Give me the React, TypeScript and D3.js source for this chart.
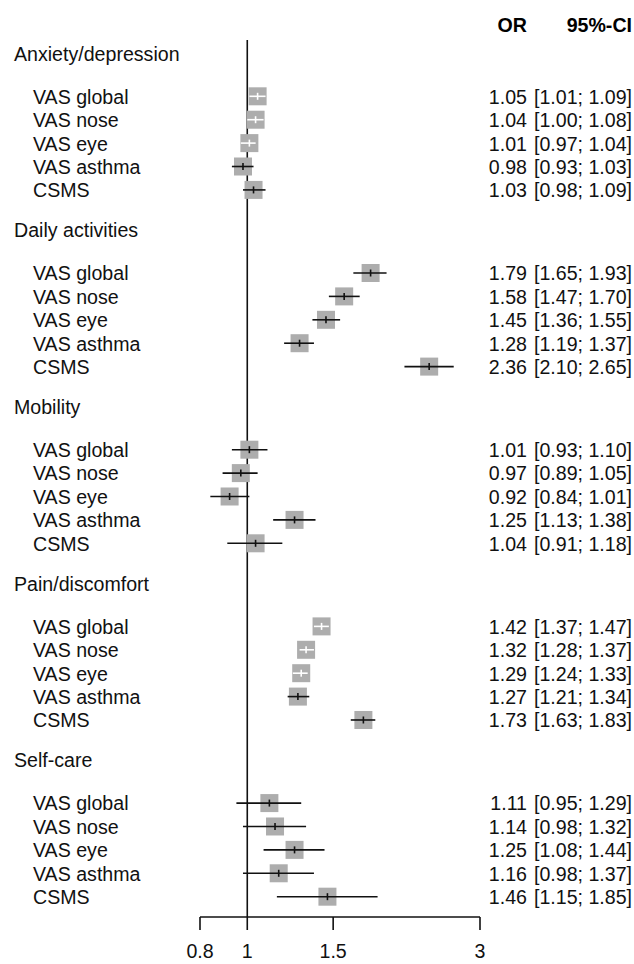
import { useEffect, useRef } from 'react';
import * as d3 from 'd3';

const groups = ['Anxiety/depression', 'Daily activities', 'Mobility', 'Pain/discomfort', 'Self-care'];
const measures = ['VAS global', 'VAS nose', 'VAS eye', 'VAS asthma', 'CSMS'];

// odds ratios, one row per group (same order as measures)
const orValues = [
  [1.05, 1.04, 1.01, 0.98, 1.03],
  [1.79, 1.58, 1.45, 1.28, 2.36],
  [1.01, 0.97, 0.92, 1.25, 1.04],
  [1.42, 1.32, 1.29, 1.27, 1.73],
  [1.11, 1.14, 1.25, 1.16, 1.46],
];
const ciLower = [
  [1.01, 1.0, 0.97, 0.93, 0.98],
  [1.65, 1.47, 1.36, 1.19, 2.1],
  [0.93, 0.89, 0.84, 1.13, 0.91],
  [1.37, 1.28, 1.24, 1.21, 1.63],
  [0.95, 0.98, 1.08, 0.98, 1.15],
];
const ciUpper = [
  [1.09, 1.08, 1.04, 1.03, 1.09],
  [1.93, 1.7, 1.55, 1.37, 2.65],
  [1.1, 1.05, 1.01, 1.38, 1.18],
  [1.47, 1.37, 1.33, 1.34, 1.83],
  [1.29, 1.32, 1.44, 1.37, 1.85],
];

const tickValues = [0.8, 1, 1.5, 3];

export default function App() {
  const ref = useRef<SVGSVGElement>(null);

  useEffect(() => {
    const width = 634;
    const height = 964;
    const font = '"Liberation Sans", Arial, Helvetica, sans-serif';
    const fs = 19.6;

    const svg = d3.select(ref.current);
    svg.selectAll('*').remove();
    svg.attr('width', width).attr('height', height).attr('viewBox', `0 0 ${width} ${height}`);

    const x = d3.scaleLog().domain([0.8, 3]).range([200, 480]);

    // row positions: header, a gap, five measures, gap before next header
    const groupSpan = 7.551;
    const headerGap = 1.838;
    const y = d3.scaleLinear().domain([0, 1]).range([53.3, 76.7]);

    const axisY = 917;
    const box = 18;

    // reference line at OR = 1
    svg
      .append('line')
      .attr('x1', x(1))
      .attr('x2', x(1))
      .attr('y1', 40)
      .attr('y2', axisY)
      .attr('stroke', '#111')
      .attr('stroke-width', 1.6);

    // column headers
    svg
      .append('text')
      .attr('x', 527)
      .attr('y', 32)
      .attr('text-anchor', 'end')
      .style('font-family', font)
      .style('font-size', `${fs}px`)
      .style('font-weight', 'bold')
      .text('OR');
    svg
      .append('text')
      .attr('x', 632)
      .attr('y', 32)
      .attr('text-anchor', 'end')
      .style('font-family', font)
      .style('font-size', `${fs}px`)
      .style('font-weight', 'bold')
      .text('95%-CI');

    groups.forEach((g, gi) => {
      const hy = y(gi * groupSpan);
      svg
        .append('text')
        .attr('x', 14)
        .attr('y', hy + 7.4)
        .style('font-family', font)
        .style('font-size', `${fs}px`)
        .attr('fill', '#111')
        .text(g);

      const rows = measures.map((m, i) => ({
        label: m,
        or: orValues[gi][i],
        lo: ciLower[gi][i],
        hi: ciUpper[gi][i],
        cy: y(gi * groupSpan + headerGap + i),
      }));

      const row = svg.append('g').selectAll('g').data(rows).join('g');

      row
        .append('text')
        .attr('x', 33)
        .attr('y', (d) => d.cy + 7.4)
        .style('font-family', font)
        .style('font-size', `${fs}px`)
        .attr('fill', '#111')
        .text((d) => d.label);

      row
        .append('text')
        .attr('x', 527)
        .attr('y', (d) => d.cy + 7.4)
        .attr('text-anchor', 'end')
        .style('font-family', font)
        .style('font-size', `${fs}px`)
        .attr('fill', '#111')
        .text((d) => d.or.toFixed(2));

      row
        .append('text')
        .attr('x', 632)
        .attr('y', (d) => d.cy + 7.4)
        .attr('text-anchor', 'end')
        .style('font-family', font)
        .style('font-size', `${fs}px`)
        .attr('fill', '#111')
        .text((d) => `[${d.lo.toFixed(2)}; ${d.hi.toFixed(2)}]`);

      row
        .append('rect')
        .attr('x', (d) => x(d.or) - box / 2)
        .attr('y', (d) => d.cy - box / 2)
        .attr('width', box)
        .attr('height', box)
        .attr('fill', '#adadad');

      // CI drawn white when it fits inside the square
      const inside = (d: any) => x(d.lo) >= x(d.or) - box / 2 && x(d.hi) <= x(d.or) + box / 2;

      row
        .append('line')
        .attr('x1', (d) => x(d.lo))
        .attr('x2', (d) => x(d.hi))
        .attr('y1', (d) => d.cy)
        .attr('y2', (d) => d.cy)
        .attr('stroke', (d) => (inside(d) ? '#fff' : '#111'))
        .attr('stroke-width', 1.6);

      row
        .append('line')
        .attr('x1', (d) => x(d.or))
        .attr('x2', (d) => x(d.or))
        .attr('y1', (d) => d.cy - 3.5)
        .attr('y2', (d) => d.cy + 3.5)
        .attr('stroke', (d) => (inside(d) ? '#fff' : '#111'))
        .attr('stroke-width', 1.6);
    });

    // x axis
    const axis = svg.append('g').attr('transform', `translate(0,${axisY})`);
    axis
      .append('line')
      .attr('x1', x(0.8))
      .attr('x2', x(3))
      .attr('stroke', '#111')
      .attr('stroke-width', 1.6);
    axis
      .selectAll('line.tick')
      .data(tickValues)
      .join('line')
      .attr('class', 'tick')
      .attr('x1', (d) => x(d))
      .attr('x2', (d) => x(d))
      .attr('y1', 0)
      .attr('y2', 13)
      .attr('stroke', '#111')
      .attr('stroke-width', 1.6);
    axis
      .selectAll('text')
      .data(tickValues)
      .join('text')
      .attr('x', (d) => x(d))
      .attr('y', 41)
      .attr('text-anchor', 'middle')
      .style('font-family', font)
      .style('font-size', `${fs}px`)
      .attr('fill', '#111')
      .text((d) => `${d}`);
  }, []);

  return <svg ref={ref} style={{ position: 'absolute', left: 0, top: 0, display: 'block', background: '#fff' }} />;
}
